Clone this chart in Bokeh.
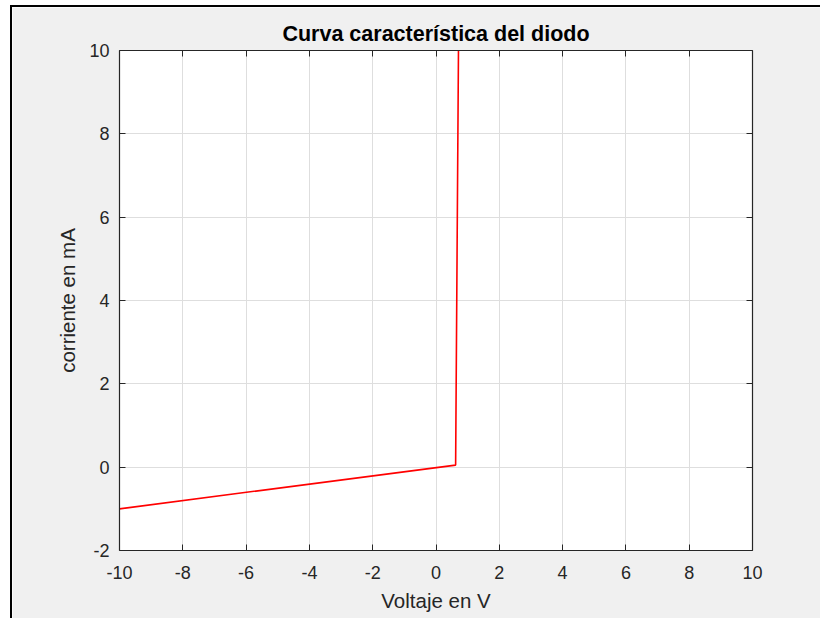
from bokeh.plotting import figure
from bokeh.models import LinearAxis, Range1d, FixedTicker
from bokeh.embed import file_html
from bokeh.resources import INLINE

voltage = [-10.0, 0.62, 0.71]
current = [-1.0, 0.05, 10.0]
x_ticks = [-10, -8, -6, -4, -2, 0, 2, 4, 6, 8, 10]
y_ticks = [-2, 0, 2, 4, 6, 8, 10]

AX = "#262626"
BG = "#f0f0f0"
FONT = "Liberation Sans"

p = figure(width=808, height=611, output_backend="svg", toolbar_location=None,
           x_range=Range1d(-10, 10), y_range=Range1d(-2, 10),
           frame_width=633, frame_height=500,
           min_border_left=107, min_border_right=68, min_border_top=43, min_border_bottom=68,
           title="Curva característica del diodo")
p.border_fill_color = BG
p.background_fill_color = "white"
p.outline_line_color = None
p.styles = {"border-left": "2px solid black", "border-top": "2px solid black",
            "margin-left": "10px", "margin-top": "5px"}

p.title.align = "center"
p.title.text_font = FONT
p.title.text_font_size = "21.5px"
p.title.text_font_style = "bold"
p.title.text_color = "black"
p.title.standoff = 10

p.line(voltage, current, line_color="#ff0000", line_width=1.6)

def style_axis(ax):
    ax.axis_line_color = AX
    ax.axis_line_width = 1.2
    ax.major_tick_in = 6
    ax.major_tick_out = 0
    ax.minor_tick_line_color = None
    ax.major_tick_line_color = AX
    ax.major_label_text_color = AX
    ax.major_label_text_font = FONT
    ax.major_label_text_font_size = "18px"
    ax.axis_label_text_font = FONT
    ax.axis_label_text_font_size = "20.5px"
    ax.axis_label_text_font_style = "normal"
    ax.axis_label_text_color = AX

xa = p.xaxis[0]
ya = p.yaxis[0]
xa.ticker = FixedTicker(ticks=x_ticks)
ya.ticker = FixedTicker(ticks=y_ticks)
style_axis(xa)
style_axis(ya)
xa.major_label_overrides = {t: str(t) for t in x_ticks}
ya.major_label_overrides = {t: str(t) for t in y_ticks}
xa.axis_label = "Voltaje en V"
ya.axis_label = "corriente en mA"
xa.major_label_standoff = 15
ya.major_label_standoff = 10
xa.axis_label_standoff = 7
ya.axis_label_standoff = 7

top = LinearAxis(ticker=FixedTicker(ticks=x_ticks))
right = LinearAxis(ticker=FixedTicker(ticks=y_ticks))
for a, ticks in ((top, x_ticks), (right, y_ticks)):
    style_axis(a)
    a.major_label_standoff = 0
    a.major_label_overrides = {t: "" for t in ticks}
p.add_layout(top, "above")
p.add_layout(right, "right")

p.xgrid.ticker = FixedTicker(ticks=x_ticks)
p.ygrid.ticker = FixedTicker(ticks=y_ticks)
for g in (p.xgrid, p.ygrid):
    g.grid_line_color = "#dedede"
    g.grid_line_width = 1

open("out.html", "w").write(file_html(p, INLINE))
